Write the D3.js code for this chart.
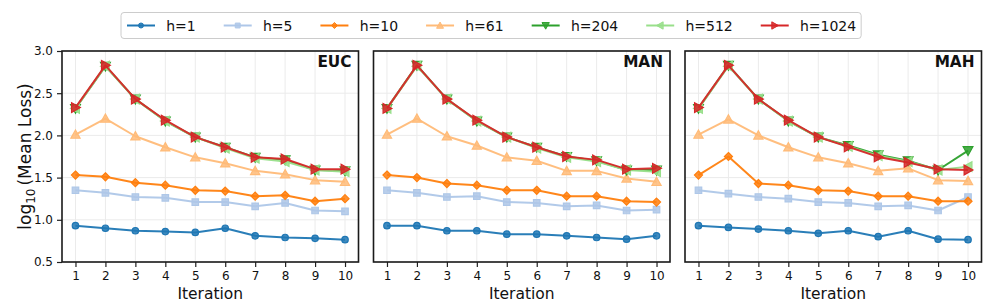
<!DOCTYPE html>
<html>
<head>
<meta charset="utf-8">
<script src="https://cdn.jsdelivr.net/npm/d3@7"></script>
<style>
  body { margin: 0; background: #fff; }
  text { font-family: "DejaVu Sans", sans-serif; fill: #111; }
</style>
</head>
<body>
<div id="chart"></div>
<script>
// -------- data ---------- //
var iterations = [1, 2, 3, 4, 5, 6, 7, 8, 9, 10];
var seriesNames = ["h=1", "h=5", "h=10", "h=61", "h=204", "h=512", "h=1024"];
var panelTitles = ["EUC", "MAN", "MAH"];
var yTicks = [0.5, 1.0, 1.5, 2.0, 2.5, 3.0];

// one row per series, same order as seriesNames
var euc = [
  [0.93, 0.90, 0.87, 0.86, 0.85, 0.90, 0.81, 0.79, 0.78, 0.765],
  [1.35, 1.32, 1.27, 1.26, 1.21, 1.21, 1.16, 1.20, 1.11, 1.10],
  [1.53, 1.51, 1.44, 1.41, 1.35, 1.34, 1.28, 1.29, 1.22, 1.25],
  [2.01, 2.20, 1.99, 1.86, 1.74, 1.67, 1.58, 1.54, 1.47, 1.45],
  [2.32, 2.82, 2.43, 2.17, 1.98, 1.86, 1.74, 1.71, 1.59, 1.58],
  [2.32, 2.82, 2.43, 2.17, 1.98, 1.85, 1.73, 1.69, 1.59, 1.57],
  [2.33, 2.83, 2.43, 2.18, 1.98, 1.86, 1.74, 1.72, 1.60, 1.60]
];
var man = [
  [0.93, 0.93, 0.87, 0.87, 0.83, 0.83, 0.81, 0.79, 0.77, 0.81],
  [1.35, 1.32, 1.27, 1.28, 1.21, 1.20, 1.16, 1.17, 1.11, 1.12],
  [1.53, 1.50, 1.43, 1.41, 1.35, 1.35, 1.28, 1.28, 1.22, 1.21],
  [2.01, 2.20, 1.99, 1.88, 1.74, 1.70, 1.58, 1.58, 1.49, 1.45],
  [2.32, 2.83, 2.43, 2.17, 1.98, 1.86, 1.75, 1.70, 1.59, 1.59],
  [2.32, 2.82, 2.43, 2.17, 1.98, 1.85, 1.74, 1.69, 1.59, 1.57],
  [2.32, 2.83, 2.43, 2.18, 1.98, 1.86, 1.75, 1.71, 1.60, 1.61]
];
var mah = [
  [0.93, 0.91, 0.89, 0.87, 0.84, 0.87, 0.80, 0.87, 0.77, 0.765],
  [1.35, 1.31, 1.27, 1.25, 1.21, 1.20, 1.16, 1.17, 1.11, 1.27],
  [1.53, 1.75, 1.43, 1.41, 1.35, 1.34, 1.28, 1.28, 1.22, 1.22],
  [2.01, 2.19, 2.00, 1.86, 1.74, 1.67, 1.58, 1.61, 1.47, 1.46],
  [2.32, 2.83, 2.43, 2.17, 1.98, 1.88, 1.77, 1.70, 1.59, 1.82],
  [2.32, 2.82, 2.43, 2.17, 1.98, 1.87, 1.76, 1.69, 1.59, 1.63],
  [2.33, 2.83, 2.43, 2.18, 1.98, 1.865, 1.745, 1.68, 1.60, 1.59]
];
var panelData = [euc, man, mah];

var colors = ["#1f77b4", "#aec7e8", "#ff7f0e", "#ffbb78", "#2ca02c", "#98df8a", "#d62728"];
var symbols = ["circle", "square", "diamond", "tri-up", "tri-down", "tri-left", "tri-right"];

// -------- layout ---------- //
var width = 997, height = 307;
var panelLefts = [62, 373.5, 685];
var panelW = 296.5;
var plotTop = 51, plotBottom = 262;

var svg = d3.select("#chart").append("svg")
  .attr("width", width).attr("height", height)
  .attr("viewBox", [0, 0, width, height]);

var x = d3.scaleLinear().domain([0.55, 10.45]).range([0, panelW]);
var y = d3.scaleLinear().domain([0.5, 3.0]).range([plotBottom, plotTop]);

// marker path, centred on 0,0
function markerPath(kind, s) {
  var r = s / 2;
  if (kind === "circle") return d3.symbol(d3.symbolCircle, Math.PI * r * r)();
  if (kind === "square") return "M" + (-r) + "," + (-r) + "h" + s + "v" + s + "h" + (-s) + "Z";
  if (kind === "diamond") { var d = r * 1.15; return "M0," + (-d) + "L" + d + ",0L0," + d + "L" + (-d) + ",0Z"; }
  var t = r * 1.15;
  var pts = [[0, -t], [t, t * 0.8], [-t, t * 0.8]];
  var rot = { "tri-up": 0, "tri-down": 180, "tri-left": -90, "tri-right": 90 }[kind];
  var a = rot * Math.PI / 180;
  return "M" + pts.map(function(p) {
    return [p[0] * Math.cos(a) - p[1] * Math.sin(a), p[0] * Math.sin(a) + p[1] * Math.cos(a)].join(",");
  }).join("L") + "Z";
}
var markerSize = [6.5, 6.5, 7, 8, 8.5, 8.5, 8.5];

panelData.forEach(function(rows, pi) {
  var g = svg.append("g").attr("transform", "translate(" + panelLefts[pi] + ",0)");

  // grid
  g.append("g").selectAll("line").data(iterations).join("line")
    .attr("x1", function(d) { return x(d); }).attr("x2", function(d) { return x(d); })
    .attr("y1", plotTop).attr("y2", plotBottom)
    .attr("stroke", "#ebebeb").attr("stroke-width", 1);
  g.append("g").selectAll("line").data(yTicks).join("line")
    .attr("x1", 0).attr("x2", panelW)
    .attr("y1", function(d) { return y(d); }).attr("y2", function(d) { return y(d); })
    .attr("stroke", "#ebebeb").attr("stroke-width", 1);

  // axes
  var xAxis = g.append("g").attr("transform", "translate(0," + plotBottom + ")")
    .call(d3.axisBottom(x).tickValues(iterations).tickFormat(d3.format("d")).tickSize(5).tickPadding(4));
  var yAxis = g.append("g")
    .call(d3.axisLeft(y).tickValues(yTicks).tickFormat(pi === 0 ? d3.format(".1f") : "").tickSize(pi === 0 ? 5 : 0).tickPadding(4));
  [xAxis, yAxis].forEach(function(ax) {
    ax.select(".domain").remove();
    ax.selectAll("line").attr("stroke", "#222").attr("stroke-width", 1.2);
    ax.selectAll("text").attr("font-size", 12).attr("fill", "#111")
      .style("font-family", "DejaVu Sans");
  });

  // series
  var line = d3.line().x(function(d, i) { return x(iterations[i]); }).y(function(d) { return y(d); });
  rows.forEach(function(vals, si) {
    var sg = g.append("g");
    sg.append("path").datum(vals)
      .attr("d", line)
      .attr("fill", "none")
      .attr("stroke", colors[si])
      .attr("stroke-width", 2)
      .attr("stroke-opacity", 0.95)
      .attr("stroke-linejoin", "round");
    sg.selectAll("path.m").data(vals).join("path")
      .attr("class", "m")
      .attr("transform", function(d, i) { return "translate(" + x(iterations[i]) + "," + y(d) + ")"; })
      .attr("d", markerPath(symbols[si], markerSize[si]))
      .attr("fill", colors[si])
      .attr("fill-opacity", 0.85)
      .attr("stroke", colors[si])
      .attr("stroke-width", 1.2);
  });

  // frame
  g.append("rect")
    .attr("x", 0).attr("y", plotTop).attr("width", panelW).attr("height", plotBottom - plotTop)
    .attr("fill", "none").attr("stroke", "#1a1a1a").attr("stroke-width", 1.6);

  // title
  g.append("text")
    .attr("x", panelW - 7).attr("y", 67)
    .attr("text-anchor", "end")
    .attr("font-size", 15.3).attr("font-weight", "bold")
    .text(panelTitles[pi]);

  // x label
  g.append("text")
    .attr("x", panelW / 2).attr("y", 299)
    .attr("text-anchor", "middle")
    .attr("font-size", 15.5).attr("fill", "#333")
    .text("Iteration");
});

// y label
var yl = svg.append("text")
  .attr("transform", "translate(31," + ((plotTop + plotBottom) / 2) + ") rotate(-90)")
  .attr("text-anchor", "middle")
  .attr("font-size", 17);
yl.append("tspan").text("log");
yl.append("tspan").attr("font-size", 12).attr("dy", 4).text("10");
yl.append("tspan").attr("dy", -4).attr("dx", 3).text("(Mean Loss)");

// -------- legend ---------- //
var lg = svg.append("g");
var lgBox = lg.append("rect")
  .attr("y", 12.5).attr("height", 26).attr("rx", 3)
  .attr("fill", "#fff").attr("stroke", "#cccccc").attr("stroke-width", 1);

var fs = 14, handleLen = 28, handlePad = 11.2, colSpace = 28;
var cx = 127, ly = 25.5;
seriesNames.forEach(function(name, si) {
  lg.append("line")
    .attr("x1", cx).attr("x2", cx + handleLen).attr("y1", ly).attr("y2", ly)
    .attr("stroke", colors[si]).attr("stroke-width", 2);
  lg.append("path")
    .attr("transform", "translate(" + (cx + handleLen / 2) + "," + ly + ")")
    .attr("d", markerPath(symbols[si], markerSize[si] * 0.75))
    .attr("fill", colors[si]).attr("fill-opacity", 0.85)
    .attr("stroke", colors[si]).attr("stroke-width", 1);
  var t = lg.append("text")
    .attr("x", cx + handleLen + handlePad).attr("y", ly + 5)
    .attr("font-size", fs)
    .text(name);
  cx += handleLen + handlePad + t.node().getComputedTextLength() + colSpace;
});
lgBox.attr("x", 121).attr("width", cx - colSpace + 5 - 121);
</script>
</body>
</html>
